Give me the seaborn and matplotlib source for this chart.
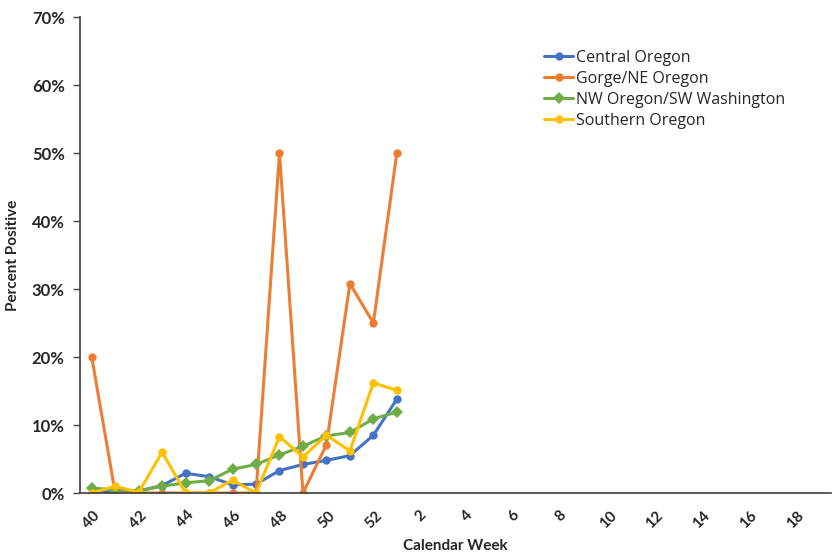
import numpy as np
import pandas as pd
import seaborn as sns
import matplotlib
matplotlib.use("Agg")
import matplotlib.pyplot as plt
from matplotlib.ticker import FuncFormatter, FixedLocator

# calendar weeks shown on the axis (season runs week 40 -> week 19)
weeks = list(range(40, 53)) + list(range(1, 20))
data_weeks = list(range(40, 53)) + [1]

central = [0.0, 0.3, 0.3, 1.1, 2.9, 2.4, 1.2, 1.3, 3.3, 4.2, 4.8, 5.5, 8.5, 13.8]
gorge = [20.0, 0.0, 0.0, 0.0, 0.0, 0.0, 0.0, 0.0, 50.0, 0.0, 7.1, 30.8, 25.0, 50.0]
nw_sw = [0.7, 0.5, 0.3, 1.0, 1.5, 1.8, 3.5, 4.2, 5.6, 6.9, 8.4, 8.9, 10.9, 11.9]
southern = [0.0, 1.0, 0.1, 6.0, 0.0, 0.0, 1.9, 0.0, 8.3, 5.3, 8.5, 6.2, 16.2, 15.1]

regions = ["Central Oregon", "Gorge/NE Oregon", "NW Oregon/SW Washington", "Southern Oregon"]
colors = ["#4472C4", "#ED7D31", "#70AD47", "#FFC000"]
markers = ["o", "o", "D", "o"]

pos = [weeks.index(w) for w in data_weeks]
frames = []
for name, vals in zip(regions, [central, gorge, nw_sw, southern]):
    frames.append(pd.DataFrame({"pos": pos, "pct": vals, "region": name}))
df = pd.concat(frames, ignore_index=True)

sns.set_style("white")
plt.rcParams["font.family"] = ["Lato", "DejaVu Sans"]

fig = plt.figure(figsize=(8.32, 5.52), dpi=100)
ax = fig.add_axes([80 / 832, 59 / 552, 751 / 832, 476 / 552])

sns.lineplot(data=df, x="pos", y="pct", hue="region", style="region",
             hue_order=regions, style_order=regions,
             palette=colors, markers=markers, dashes=False,
             linewidth=2.2, markersize=6, markeredgewidth=0, ax=ax)

ax.set_xlim(-0.5, len(weeks) - 0.5)
ax.set_ylim(0, 70)
ax.yaxis.set_major_locator(FixedLocator(np.arange(0, 71, 10)))
ax.yaxis.set_major_formatter(FuncFormatter(lambda v, p: f"{v:.0f}%"))

lab_pos = list(range(0, len(weeks), 2))
ax.set_xticks(lab_pos)
ax.set_xticklabels([str(weeks[i]) for i in lab_pos], rotation=45,
                   ha="center", fontweight="bold", fontsize=11)
ax.set_xticks(np.arange(-0.5, len(weeks), 1), minor=True)
ax.tick_params(axis="x", which="major", length=0, pad=11)
ax.tick_params(axis="x", which="minor", length=5, width=1, color="#404040", direction="out")
ax.tick_params(axis="y", length=5, width=1, color="#404040", direction="out", left=True, pad=6)
for t in ax.get_yticklabels():
    t.set_fontweight("bold")
    t.set_fontsize(12)

sns.despine(ax=ax)
ax.spines["left"].set_color("#404040")
ax.spines["bottom"].set_color("#404040")
ax.spines["left"].set_linewidth(1.2)
ax.spines["bottom"].set_linewidth(1.2)

ax.set_xlabel("Calendar Week", fontweight="bold", fontsize=11, labelpad=6)
ax.set_ylabel("Percent Positive", fontweight="bold", fontsize=11)
ax.yaxis.set_label_coords(-0.08, 0.5)

leg = ax.legend(loc="upper left", bbox_to_anchor=(0.61, 0.945), frameon=False,
                prop={"family": ["Open Sans", "DejaVu Sans"], "size": 11.5},
                handlelength=1.8, handletextpad=0.15,
                labelspacing=0.32, borderaxespad=0)

fig.savefig("out.png", dpi=100)
